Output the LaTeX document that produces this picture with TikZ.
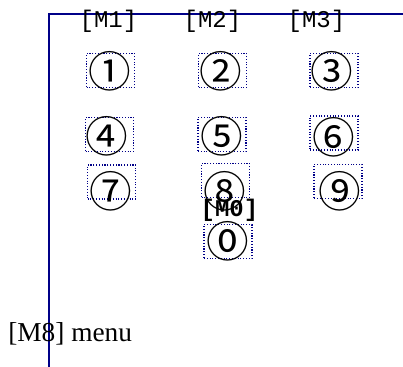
\documentclass[tikz,border=0pt]{standalone}
\usepackage{fontspec}
\setmainfont{Liberation Serif}
\setmonofont{Liberation Mono}
\newfontfamily\circfont{Noto Sans CJK JP}
\usepackage{xcolor}
\definecolor{navyline}{HTML}{000088}

\begin{document}
\begin{tikzpicture}[x=0.75pt, y=-0.75pt,
    keybox/.style={draw=navyline, line width=0.8pt, dash pattern=on 0.8pt off 1.3pt,
        minimum width=36pt, minimum height=25.5pt, inner sep=0pt},
    digit/.style={font=\circfont\fontsize{32}{32}\selectfont, inner sep=0pt},
    menulabel/.style={font=\ttfamily\fontsize{18}{18}\selectfont, inner sep=0pt, anchor=base}]
    \useasboundingbox (0,0) rectangle (403,367);

    % frame
    \coordinate (corner) at (49,14);
    \draw[navyline, line width=1.7pt] (49,367) -- (corner) -- (403,14);

    \node[menulabel] (m1) at (108.5,28) {[M1]};
    \node[menulabel] (m2) at (212.5,28) {[M2]};
    \node[menulabel] (m3) at (316.5,28) {[M3]};

    % boxes
    \node[keybox] (b1) at (110.5,70.5) {};
    \node[keybox] (b2) at (222.5,70.5) {};
    \node[keybox] (b3) at (334,70.5) {};
    \node[keybox] (b4) at (109.5,134.5) {};
    \node[keybox] (b5) at (222,134.5) {};
    \node[keybox] (b6) at (334,133) {};
    \node[keybox] (b7) at (111.5,182) {};
    \node[keybox] (b8) at (225.5,180.5) {};
    \node[keybox] (b9) at (338,181.5) {};
    \node[keybox] (b0) at (228,241.5) {};

    % digits
    \node[digit] (k1) at (109.5,71.5) {①};
    \node[digit] (k2) at (221,71.5) {②};
    \node[digit] (k3) at (332,71.5) {③};
    \node[digit] (k4) at (107,136) {④};
    \node[digit] (k5) at (222,136) {⑤};
    \node[digit] (k6) at (334,137.5) {⑥};
    \node[digit] (k7) at (110.5,191.5) {⑦};
    \node[digit] (k8) at (225,191.5) {⑧};
    \node[digit] (k9) at (340,191.5) {⑨};
    \node[digit] (k0) at (228.3,241) {⓪};

    \node[menulabel, font=\ttfamily\bfseries\fontsize{18}{18}\selectfont] (m0) at (229.5,216) {[M0]};

    \node[anchor=base west, inner sep=0pt, font=\fontsize{20.5}{20.5}\selectfont] (m8) at (8,341) {[M8] menu};
\end{tikzpicture}
\end{document}
